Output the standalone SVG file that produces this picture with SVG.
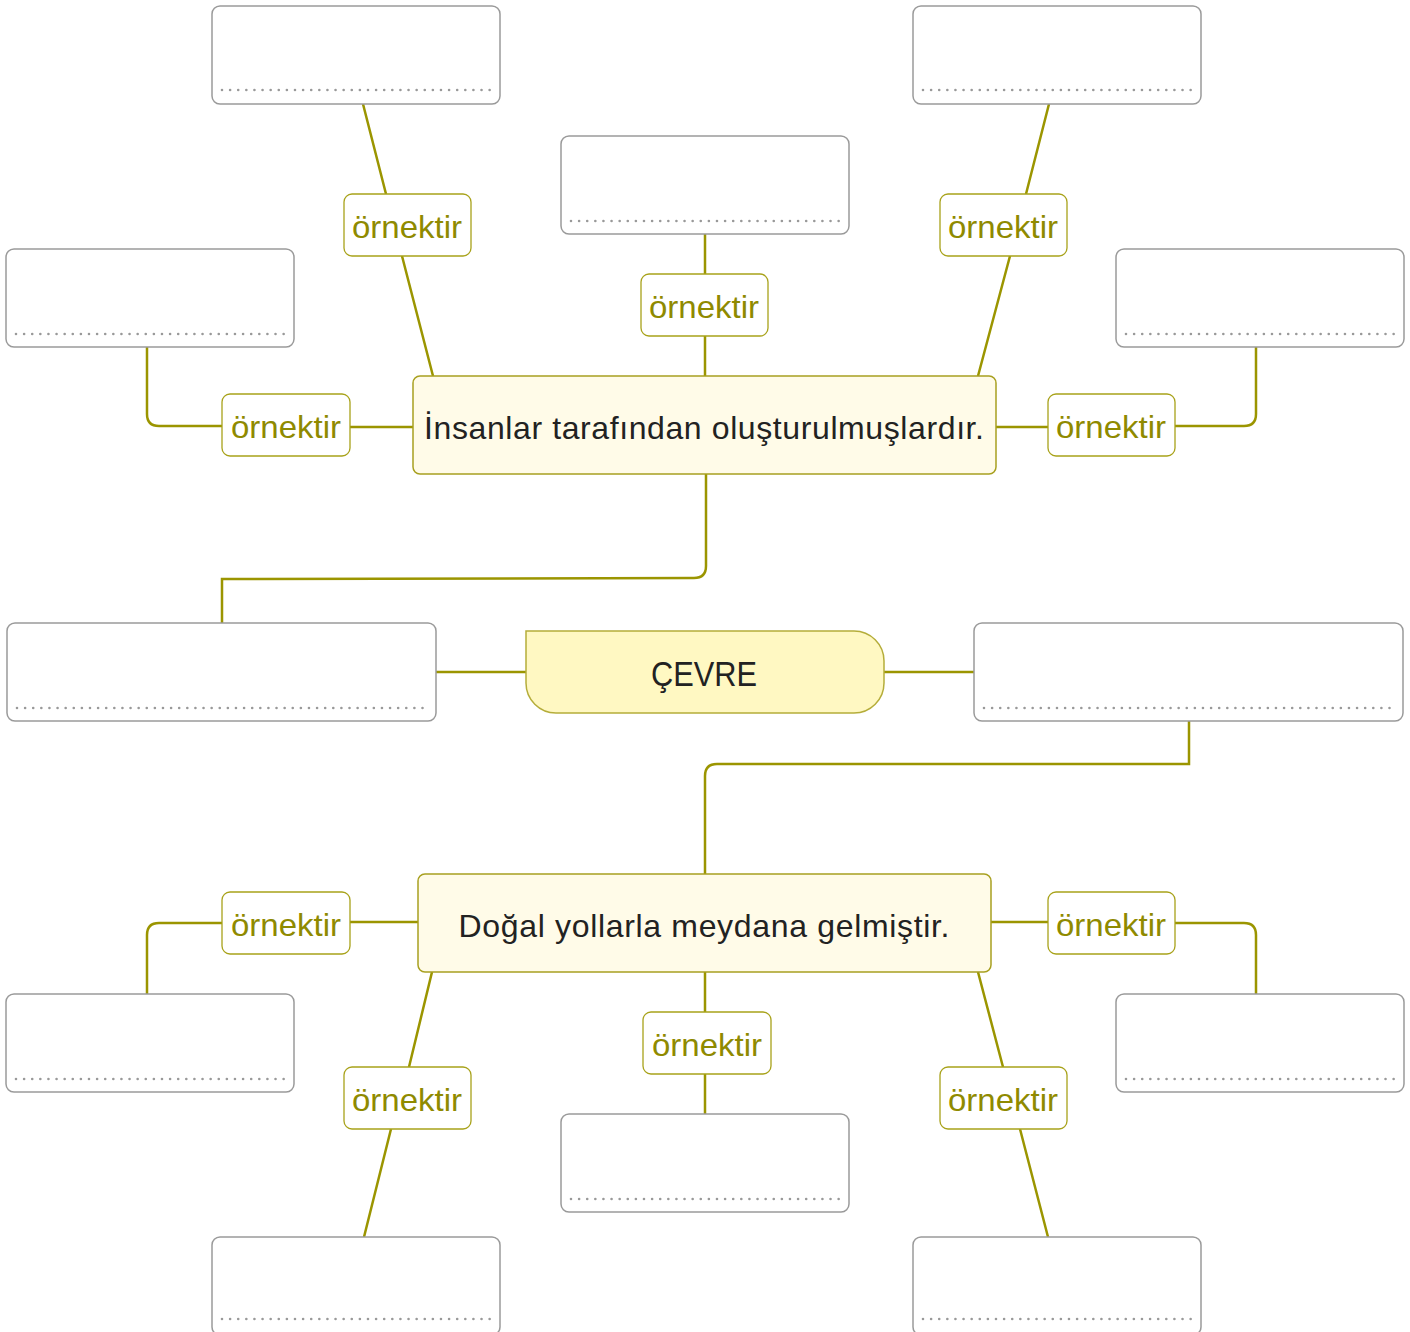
<svg xmlns="http://www.w3.org/2000/svg" width="1410" height="1332" viewBox="0 0 1410 1332">
<style>
.box{fill:#fff;stroke:#9a9a9a;stroke-width:1.5}
.dots{stroke:#999;stroke-width:2.6;stroke-dasharray:0.01 8.1;stroke-linecap:round;fill:none}
.lbl{fill:#fff;stroke:#a8a21a;stroke-width:1.3}
.lt{font-family:"Liberation Sans","Noto Sans",sans-serif;font-size:32px;fill:#8f8a00;text-anchor:middle}
.main{fill:#fffbe8;stroke:#a8a020;stroke-width:1.5}
.mt{font-family:"Liberation Sans","Noto Sans",sans-serif;font-size:32px;fill:#222;text-anchor:middle}
.con{fill:none;stroke:#9b9500;stroke-width:2.5}
</style>
<rect width="1410" height="1332" fill="#fff"/>
<g id="connectors">
<path class="con" d="M363,104 L386,194 M402,256 L433,376"/>
<path class="con" d="M705,234 V274 M705,336 V376"/>
<path class="con" d="M1049,104 L1026,194 M1010,256 L978,376"/>
<path class="con" d="M147,347 V414 Q147,426 159,426 H222 M350,427 H413"/>
<path class="con" d="M996,427 H1048 M1175,426 H1244 Q1256,426 1256,414 V347"/>
<path class="con" d="M706,474 V566 Q706,578 694,578 L222,579 V623"/>
<path class="con" d="M436,672 H526 M884,672 H974"/>
<path class="con" d="M1189,721 V764 H717 Q705,764 705,776 V874"/>
<path class="con" d="M418,922 H350 M222,923 H159 Q147,923 147,935 V994"/>
<path class="con" d="M991,922 H1048 M1175,923 H1244 Q1256,923 1256,935 V994"/>
<path class="con" d="M705,972 V1012 M705,1074 V1114"/>
<path class="con" d="M432,972 L409,1067 M391,1129 L364,1237"/>
<path class="con" d="M978,972 L1003,1067 M1020,1129 L1048,1237"/>
</g>
<g id="box-tl"><rect class="box" x="212" y="6" width="288" height="98" rx="8"/><path class="dots" d="M222,90 H494"/></g>
<g id="box-tc"><rect class="box" x="561" y="136" width="288" height="98" rx="8"/><path class="dots" d="M571,221 H843"/></g>
<g id="box-tr"><rect class="box" x="913" y="6" width="288" height="98" rx="8"/><path class="dots" d="M923,90 H1195"/></g>
<g id="box-ul"><rect class="box" x="6" y="249" width="288" height="98" rx="8"/><path class="dots" d="M16,334 H288"/></g>
<g id="box-ur"><rect class="box" x="1116" y="249" width="288" height="98" rx="8"/><path class="dots" d="M1126,334 H1398"/></g>
<g id="box-ml"><rect class="box" x="7" y="623" width="429" height="98" rx="8"/><path class="dots" d="M17,708 H430"/></g>
<g id="box-mr"><rect class="box" x="974" y="623" width="429" height="98" rx="8"/><path class="dots" d="M984,708 H1397"/></g>
<g id="box-ll"><rect class="box" x="6" y="994" width="288" height="98" rx="8"/><path class="dots" d="M16,1079 H288"/></g>
<g id="box-lr"><rect class="box" x="1116" y="994" width="288" height="98" rx="8"/><path class="dots" d="M1126,1079 H1398"/></g>
<g id="box-bc"><rect class="box" x="561" y="1114" width="288" height="98" rx="8"/><path class="dots" d="M571,1199 H843"/></g>
<g id="box-bl"><rect class="box" x="212" y="1237" width="288" height="98" rx="8"/><path class="dots" d="M222,1319 H494"/></g>
<g id="box-br"><rect class="box" x="913" y="1237" width="288" height="98" rx="8"/><path class="dots" d="M923,1319 H1195"/></g>
<g id="node-top"><rect class="main" x="413" y="376" width="583" height="98" rx="7"/><text class="mt" x="704" y="439" textLength="560" lengthAdjust="spacing">İnsanlar tarafından oluşturulmuşlardır.</text></g>
<g id="node-bottom"><rect class="main" x="418" y="874" width="573" height="98" rx="7"/><text class="mt" x="704" y="937" textLength="491" lengthAdjust="spacing">Doğal yollarla meydana gelmiştir.</text></g>
<g id="node-center"><path d="M526,631 H854 A30,30 0 0 1 884,661 V683 A30,30 0 0 1 854,713 H556 A30,30 0 0 1 526,683 Z" fill="#fff8c2" stroke="#b5ad3a" stroke-width="1.5"/><text x="704" y="686" font-family="Liberation Sans,Noto Sans,sans-serif" font-size="35" fill="#222" text-anchor="middle" textLength="106" lengthAdjust="spacingAndGlyphs">ÇEVRE</text></g>
<g id="lbl1"><rect class="lbl" x="344" y="194" width="127" height="62" rx="8"/><text class="lt" x="407" y="238" textLength="110" lengthAdjust="spacingAndGlyphs">örnektir</text></g>
<g id="lbl2"><rect class="lbl" x="641" y="274" width="127" height="62" rx="8"/><text class="lt" x="704" y="318" textLength="110" lengthAdjust="spacingAndGlyphs">örnektir</text></g>
<g id="lbl3"><rect class="lbl" x="940" y="194" width="127" height="62" rx="8"/><text class="lt" x="1003" y="238" textLength="110" lengthAdjust="spacingAndGlyphs">örnektir</text></g>
<g id="lbl4"><rect class="lbl" x="222" y="394" width="128" height="62" rx="8"/><text class="lt" x="286" y="438" textLength="110" lengthAdjust="spacingAndGlyphs">örnektir</text></g>
<g id="lbl5"><rect class="lbl" x="1048" y="394" width="127" height="62" rx="8"/><text class="lt" x="1111" y="438" textLength="110" lengthAdjust="spacingAndGlyphs">örnektir</text></g>
<g id="lbl6"><rect class="lbl" x="222" y="892" width="128" height="62" rx="8"/><text class="lt" x="286" y="936" textLength="110" lengthAdjust="spacingAndGlyphs">örnektir</text></g>
<g id="lbl7"><rect class="lbl" x="1048" y="892" width="127" height="62" rx="8"/><text class="lt" x="1111" y="936" textLength="110" lengthAdjust="spacingAndGlyphs">örnektir</text></g>
<g id="lbl8"><rect class="lbl" x="643" y="1012" width="128" height="62" rx="8"/><text class="lt" x="707" y="1056" textLength="110" lengthAdjust="spacingAndGlyphs">örnektir</text></g>
<g id="lbl9"><rect class="lbl" x="344" y="1067" width="127" height="62" rx="8"/><text class="lt" x="407" y="1111" textLength="110" lengthAdjust="spacingAndGlyphs">örnektir</text></g>
<g id="lbl10"><rect class="lbl" x="940" y="1067" width="127" height="62" rx="8"/><text class="lt" x="1003" y="1111" textLength="110" lengthAdjust="spacingAndGlyphs">örnektir</text></g>
</svg>
